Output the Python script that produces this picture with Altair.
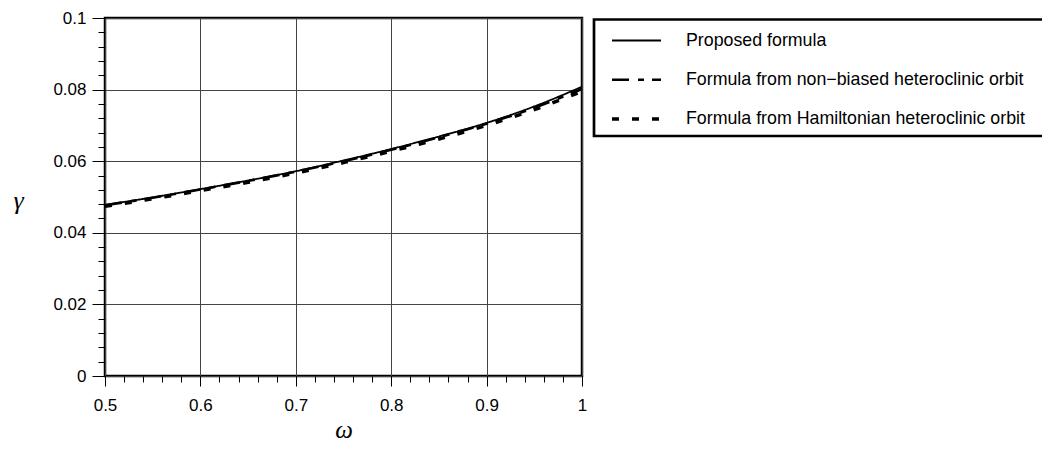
import altair as alt
import pandas as pd

# ---- data ----
omega = [0.5, 0.55, 0.6, 0.65, 0.7, 0.75, 0.8, 0.85, 0.9, 0.95, 1.0]
proposed = [0.0478, 0.0499, 0.0522, 0.0546, 0.0572, 0.0602, 0.0634, 0.0669, 0.0707, 0.0753, 0.0808]
non_biased = [0.0477, 0.0498, 0.0521, 0.0545, 0.0571, 0.0600, 0.0632, 0.0667, 0.0705, 0.0749, 0.0802]
hamiltonian = [0.0474, 0.0495, 0.0518, 0.0541, 0.0567, 0.0596, 0.0628, 0.0662, 0.0700, 0.0744, 0.0795]

series_names = [
    "Proposed formula",
    "Formula from non\u2212biased heteroclinic orbit",
    "Formula from Hamiltonian heteroclinic orbit",
]

x_major = [0.5, 0.6, 0.7, 0.8, 0.9, 1.0]
y_major = [0, 0.02, 0.04, 0.06, 0.08, 0.1]
x_minor = [0.5, 0.52, 0.54, 0.56, 0.58, 0.6, 0.62, 0.64, 0.66, 0.68, 0.7, 0.72, 0.74,
           0.76, 0.78, 0.8, 0.82, 0.84, 0.86, 0.88, 0.9, 0.92, 0.94, 0.96, 0.98, 1.0]
y_minor = [0, 0.004, 0.008, 0.012, 0.016, 0.02, 0.024, 0.028, 0.032, 0.036, 0.04, 0.044,
           0.048, 0.052, 0.056, 0.06, 0.064, 0.068, 0.072, 0.076, 0.08, 0.084, 0.088,
           0.092, 0.096, 0.1]

rows = []
for name, vals in zip(series_names, [proposed, non_biased, hamiltonian]):
    for w, g in zip(omega, vals):
        rows.append({"series": name, "omega": w, "gamma": g})
df = pd.DataFrame(rows)
legend_df = pd.DataFrame({"series": series_names})

dash_range = [[1, 0], [17, 9, 6, 8], [7, 13]]
width_range = [1.8, 3.5, 3.5]

xs = alt.Scale(domain=[0.5, 1.0], nice=False, zero=False)
ys = alt.Scale(domain=[0, 0.1], nice=False, zero=False)
dash_scale = alt.Scale(domain=series_names, range=dash_range)
width_scale = alt.Scale(domain=series_names, range=width_range)

LABEL_FONT = "Liberation Sans"

x_axis_major = alt.Axis(
    values=x_major, orient="bottom", format="~g", tickSize=10, tickColor="black",
    labelPadding=11, labelFont=LABEL_FONT, labelFontSize=17, labelColor="black",
    labelFlush=False, grid=True, gridColor="#444444", gridWidth=1, domain=False,
    title="ω", titleFont="Liberation Serif", titleFontStyle="italic",
    titleFontSize=25, titleFontWeight="normal", titleColor="black",
    titleY=61, titleBaseline="alphabetic",
)
y_axis_major = alt.Axis(
    values=y_major, orient="left", format="~g", tickSize=13, tickColor="black",
    labelPadding=6, labelFont=LABEL_FONT, labelFontSize=17, labelColor="black",
    labelFlush=False, grid=True, gridColor="#444444", gridWidth=1, domain=False,
    title="γ", titleFont="Liberation Serif", titleFontStyle="italic",
    titleFontSize=26, titleFontWeight="normal", titleColor="black",
    titleAngle=0, titleX=-87, titleY=182, titleAlign="center", titleBaseline="middle",
)
x_axis_minor = alt.Axis(values=x_minor, orient="bottom", tickSize=6, tickColor="black",
                        labels=False, grid=False, domain=False, title=None)
y_axis_minor = alt.Axis(values=y_minor, orient="left", tickSize=7, tickColor="black",
                        labels=False, grid=False, domain=False, title=None)

minor = alt.Chart(df).mark_line(opacity=0).encode(
    x=alt.X("omega:Q", scale=xs, axis=x_axis_minor),
    y=alt.Y("gamma:Q", scale=ys, axis=y_axis_minor),
    detail="series:N",
)

lines = alt.Chart(df).mark_line(interpolate="monotone", color="black").encode(
    x=alt.X("omega:Q", scale=xs, axis=x_axis_major),
    y=alt.Y("gamma:Q", scale=ys, axis=y_axis_major),
    strokeDash=alt.StrokeDash("series:N", scale=dash_scale, legend=None),
    strokeWidth=alt.StrokeWidth("series:N", scale=width_scale, legend=None),
)

plot = alt.layer(minor, lines).resolve_axis(x="independent", y="independent")

legend_y = alt.Y("series:N", scale=alt.Scale(type="point", domain=series_names,
                                              range=[22.5, 101], padding=0), axis=None)

legend_box = alt.Chart(pd.DataFrame({"k": [0]})).mark_rect(
    fill="white", stroke="black", strokeWidth=2.7
).encode(x=alt.value(489), x2=alt.value(990), y=alt.value(1.5), y2=alt.value(118))

legend_rules = alt.Chart(legend_df).mark_rule(color="black").encode(
    x=alt.value(507), x2=alt.value(556), y=legend_y,
    strokeDash=alt.StrokeDash("series:N", scale=dash_scale, legend=None),
    strokeWidth=alt.StrokeWidth("series:N", scale=width_scale, legend=None),
)

legend_text = alt.Chart(legend_df).mark_text(
    align="left", baseline="middle", font=LABEL_FONT, fontSize=17.8, color="black"
).encode(x=alt.value(581), y=legend_y, text="series:N")

chart = alt.layer(plot, legend_box, legend_rules, legend_text).resolve_scale(
    y="independent"
).properties(
    width=477, height=358,
    autosize=alt.AutoSizeParams(type="none"),
    padding={"left": 97, "top": 10, "right": 460, "bottom": 68},
    background="white",
).configure_view(stroke="black", strokeWidth=2.5)

chart.save("out.html", embed_options={"renderer": "svg", "actions": False})
